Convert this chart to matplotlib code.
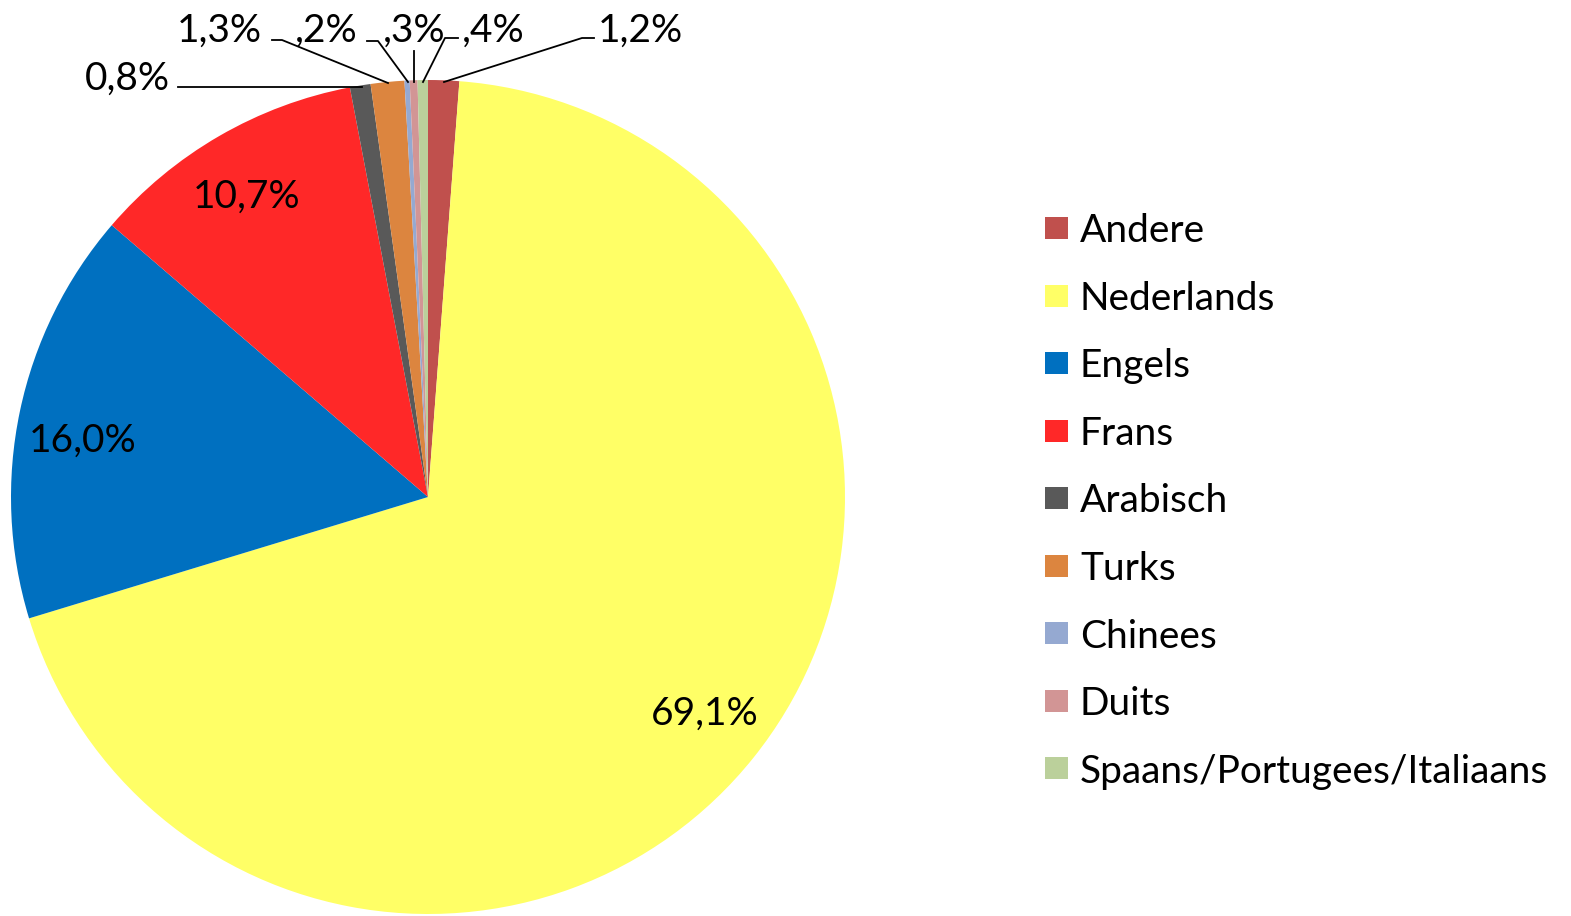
import matplotlib
matplotlib.use("Agg")
import matplotlib.pyplot as plt
from matplotlib.patches import Rectangle

plt.rcParams['font.family'] = ['Lato', 'DejaVu Sans']

categories = ["Andere", "Nederlands", "Engels", "Frans", "Arabisch", "Turks",
              "Chinees", "Duits", "Spaans/Portugees/Italiaans"]
values = [1.2, 69.1, 16.0, 10.7, 0.8, 1.3, 0.2, 0.3, 0.4]
labels = ["1,2%", "69,1%", "16,0%", "10,7%", "0,8%", "1,3%", ",2%", ",3%", ",4%"]
colors = ["#C0504D", "#FFFF66", "#0070C0", "#FF2828", "#595959", "#DC853F",
          "#95A9D1", "#D29595", "#BBD09B"]

W, H = 1571, 916
fig = plt.figure(figsize=(W / 100, H / 100), dpi=100)
ax = fig.add_axes([0, 0, 1, 1])
ax.set_xlim(0, W)
ax.set_ylim(0, H)
ax.axis("off")

def Y(py):
    return H - py

cx, cy, r = 428, Y(497), 417
ax.pie(values, colors=colors, startangle=90, counterclock=False,
       center=(cx, cy), radius=r, wedgeprops=dict(linewidth=0))
ax.set_xlim(0, W)
ax.set_ylim(0, H)
ax.set_aspect("equal")

fs = 28
# inside labels
inside = {1: (705, 710), 2: (83, 437), 3: (247, 193)}
for i, (px, py) in inside.items():
    ax.text(px, Y(py), labels[i], fontsize=fs, ha="center", va="center_baseline")

# outside labels with leader lines: (text x, text y, ha, leader points)
outside = {
    0: (598, 27, "left", [(444, 82), (582, 38), (594, 38)]),
    8: (462, 27, "left", [(423, 82), (445, 38), (458, 38)]),
    7: (414, 27, "center", [(414, 82), (414, 51)]),
    6: (358, 27, "right", [(408, 82), (378, 41), (367, 41)]),
    5: (262, 27, "right", [(388, 83), (282, 40), (272, 40)]),
    4: (170, 75, "right", [(362, 87), (178, 87)]),
}
for i, (px, py, ha, pts) in outside.items():
    ax.text(px, Y(py), labels[i], fontsize=fs, ha=ha, va="center_baseline")
    xs = [p[0] for p in pts]
    ys = [Y(p[1]) for p in pts]
    ax.plot(xs, ys, color="black", linewidth=1.3)

# legend
ly0, dy = 228, 67.5
for k, (name, col) in enumerate(zip(categories, colors)):
    yy = ly0 + k * dy
    ax.add_patch(Rectangle((1045, Y(yy) - 11), 23, 22, facecolor=col, edgecolor="none"))
    ax.text(1080, Y(yy), name, fontsize=fs, ha="left", va="center_baseline")

fig.savefig("out.png", dpi=100)
